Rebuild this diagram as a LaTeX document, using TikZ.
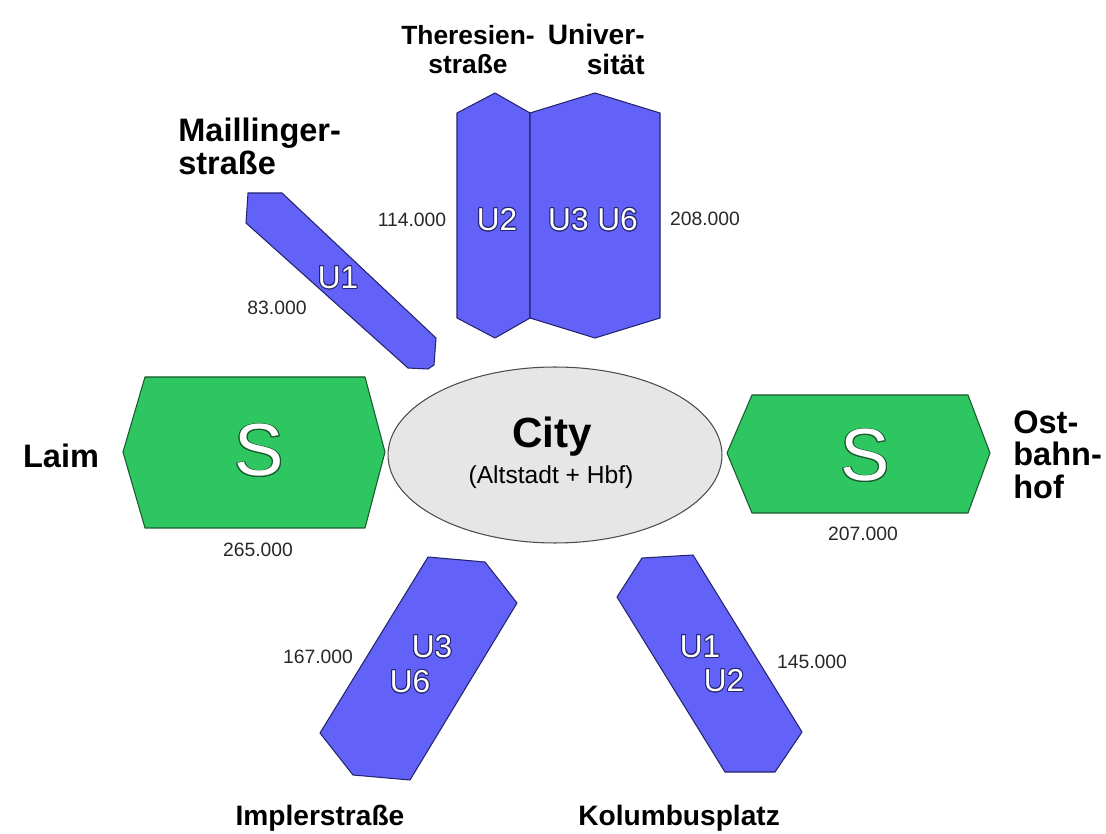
\documentclass[tikz,border=0pt]{standalone}
\usepackage{fontspec}
\setmainfont{Liberation Sans}
\usepackage{contour}
\contourlength{0.5pt}
\usetikzlibrary{shapes.geometric}
\definecolor{ublue}{RGB}{98,98,248}
\definecolor{uedge}{RGB}{36,36,110}
\definecolor{sgreen}{RGB}{46,198,96}
\definecolor{sedge}{RGB}{24,90,44}
\definecolor{cityfill}{RGB}{230,230,230}
\definecolor{numgray}{RGB}{40,40,40}
\begin{document}
\begin{tikzpicture}[x=0.02cm, y=-0.02cm,
        ubox/.style={fill=ublue, draw=uedge, line width=0.6pt, line join=round},
        sbox/.style={fill=sgreen, draw=sedge, line width=0.6pt, line join=round},
        place/.style={font=\bfseries\fontsize{16}{17}\selectfont, inner sep=0pt},
        bigplace/.style={font=\bfseries\fontsize{18.5}{18.5}\selectfont, inner sep=0pt},
        count/.style={font=\fontsize{11}{13}\selectfont, text=numgray, inner sep=0pt},
        tag/.style={font=\fontsize{18}{20}\selectfont, text=white, inner sep=0pt},
        sign/.style={font=\fontsize{42}{44}\selectfont, text=white, inner sep=0pt}]
        \useasboundingbox (0,0) rectangle (1106,834);
        % city in the middle
        \node (city) [ellipse, draw=black!70, fill=cityfill, line width=0.6pt,
            minimum width=6.68cm, minimum height=3.52cm] at (555,455) {};
        \node (c1) [font=\bfseries\fontsize{24}{26}\selectfont, anchor=base] at (552,448) {City};
        \node (c2) [font=\fontsize{14}{16}\selectfont, anchor=base] at (551,483) {(Altstadt + Hbf)};
        % U-Bahn arms
        \draw[ubox] (248,193) -- (282,193) -- (436,338) -- (434,365) -- (428,369) -- (408,368) -- (246,223) -- cycle;
        \draw[ubox] (457,113) -- (495,93) -- (530,113) -- (530,318) -- (495,338) -- (457,318) -- cycle;
        \draw[ubox] (530,113) -- (595,93) -- (660,113) -- (660,318) -- (595,338) -- (530,318) -- cycle;
        \draw[ubox] (428,557) -- (485,562) -- (517,603) -- (410,780) -- (353,775) -- (320,733) -- cycle;
        \draw[ubox] (642,558) -- (693,555) -- (802,732) -- (775,772) -- (725,772) -- (617,597) -- cycle;
        % S-Bahn arms
        \draw[sbox] (145,377) -- (365,377) -- (385,452) -- (365,528) -- (145,528) -- (123,452) -- cycle;
        \draw[sbox] (752,395) -- (968,395) -- (990,453) -- (968,513) -- (752,513) -- (727,453) -- cycle;
        % lines
        \node (t1) [tag] at (338,278) {\contour{uedge}{U1}};
        \node (t2) [tag] at (497,220) {\contour{uedge}{U2}};
        \node (t3) [tag] at (593,220) {\contour{uedge}{U3 U6}};
        \node (t4) [tag] at (432,647) {\contour{uedge}{U3}};
        \node (t5) [tag] at (410,682) {\contour{uedge}{U6}};
        \node (t6) [tag] at (700,647) {\contour{uedge}{U1}};
        \node (t7) [tag] at (724,681) {\contour{uedge}{U2}};
        \node (s1) [sign] at (259,451) {\contour{sedge}{S}};
        \node (s2) [sign] at (865,456) {\contour{sedge}{S}};
        % passengers
        \node (n1) [count] at (277,308) {83.000};
        \node (n2) [count] at (412,220) {114.000};
        \node (n3) [count] at (705,219) {208.000};
        \node (n4) [count] at (258,550) {265.000};
        \node (n5) [count] at (863,534) {207.000};
        \node (n6) [count] at (318,657) {167.000};
        \node (n7) [count] at (812,662) {145.000};
        % stations
        \node (a) [bigplace, align=left, anchor=north west] at (178,118) {Maillinger-\\straße};
        \node (b) [place, font=\bfseries\fontsize{15}{16.5}\selectfont, align=center, anchor=north] at (468,25) {Theresien-\\straße};
        \node (c) [place, align=right, anchor=north east] at (645,24) {Univer-\\sität};
        \node (d) [bigplace] at (61,456) {Laim};
        \node (e) [bigplace, align=left, anchor=north west] at (1013,410) {Ost-\\bahn-\\hof};
        \node (f) [place, anchor=base] at (320,825) {Implerstraße};
        \node (g) [place, anchor=base west] at (578,825) {Kolumbusplatz};
\end{tikzpicture}
\end{document}
